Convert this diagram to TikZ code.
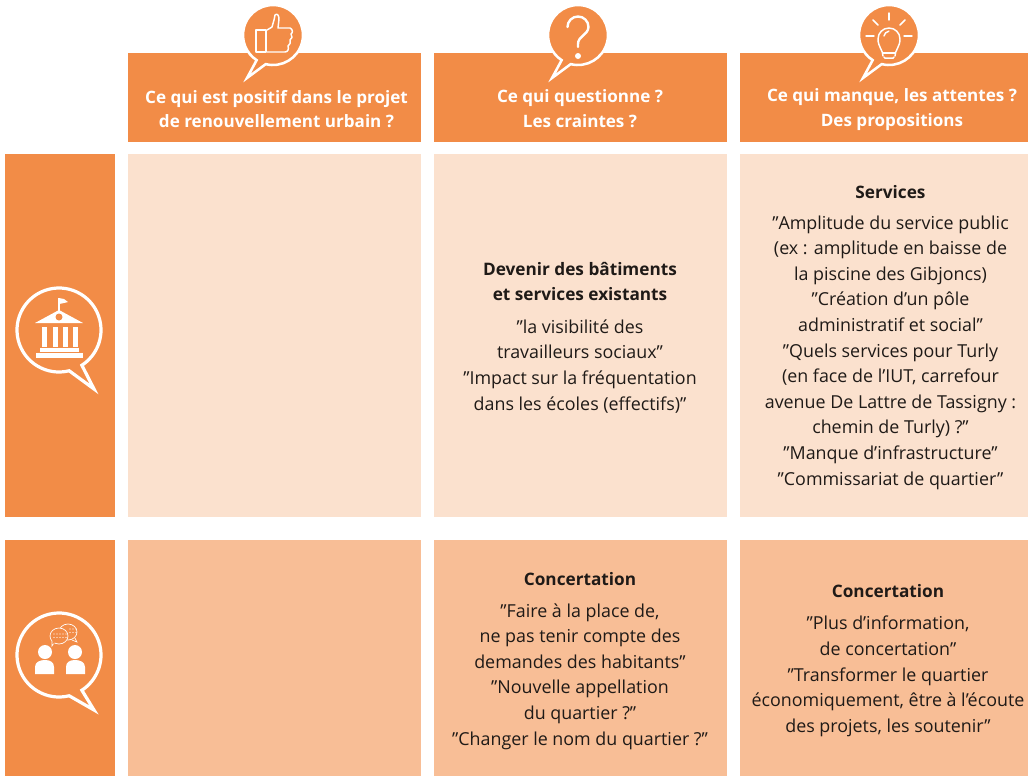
\documentclass[tikz,border=0pt]{standalone}
\usepackage{fontspec}
\setmainfont{Open Sans}
\definecolor{hdr}{HTML}{F28C47}
\definecolor{pale}{HTML}{FBE1CE}
\definecolor{mid}{HTML}{F8BE96}
\definecolor{ink}{HTML}{1F1A17}
\newcommand{\topbubble}[2]{\draw[white,line width=1.9pt,fill=hdr,miter limit=20] ($(#1,#2)+(123:30)$) -- ($(#1,#2)+(-26,43)$) -- ($(#1,#2)+(104:30)$) arc[start angle=104,end angle=-237,radius=30] -- cycle;}
\newcommand{\sidebubble}[3]{\draw[white,line width=2.4pt,fill=hdr,miter limit=20] ($(#1,#2)+(57:42)$) -- ($(#1,#2)+(35,#3)$) -- ($(#1,#2)+(76:42)$) arc[start angle=76,end angle=417,radius=42] -- cycle;}
\usetikzlibrary{calc}
\tikzset{
 x=0.75pt,y=-0.75pt,
 band/.style={rectangle,anchor=north west,inner sep=0pt,fill=hdr,text=white},
 hdrtext/.style={align=center,text=white,font=\fontsize{12.8}{18.6}\selectfont\bfseries,anchor=center},
 body/.style={align=center,text=ink,font=\fontsize{13.4}{19.2}\selectfont,anchor=center},
 ic/.style={white,line width=1.1pt,line join=round,line cap=round},
}
\newcommand{\cell}[6]{\node[band,fill=#6,minimum width=#4*0.75pt,minimum height=#5*0.75pt] (#1) at (#2,#3) {};}
\newcommand{\tit}[1]{{\fontsize{12.9}{19.2}\selectfont\bfseries #1}}
\begin{document}
\begin{tikzpicture}
\useasboundingbox (0,0) rectangle (1033,776);
\fill[white] (0,0) rectangle (1033,776);
% header bands
\cell{h1}{128}{53}{293}{89}{hdr}
\cell{h2}{434}{53}{293}{89}{hdr}
\cell{h3}{740}{53}{288}{89}{hdr}
% side bands
\cell{s1}{5}{154}{110}{363}{hdr}
\cell{s2}{5}{540}{110}{236}{hdr}
% row 1
\cell{a1}{128}{154}{293}{363}{pale}
\cell{a2}{434}{154}{293}{363}{pale}
\cell{a3}{740}{154}{288}{363}{pale}
% row 2
\cell{b1}{128}{540}{293}{236}{mid}
\cell{b2}{434}{540}{293}{236}{mid}
\cell{b3}{740}{540}{288}{236}{mid}
% top bubbles
\topbubble{273}{35}
\topbubble{578}{35}
\topbubble{889}{35}
% thumb
\draw[ic] (256,30) rectangle (266,52);
\draw[ic] (267,30) -- (272,27) -- (274,20) -- (275,15) .. controls (277,13) and (279,15) .. (279,19) -- (278,28) -- (290,28) .. controls (293,29) and (293,33) .. (291,34) .. controls (293,36) and (292,39) .. (290,40) .. controls (291,42) and (290,45) .. (288,46) .. controls (289,49) and (288,52) .. (285,52) -- (267,52);
% question mark
\draw[white,line width=1.8pt,line cap=round] (567.5,27) arc[start angle=180,end angle=360,radius=10.5] .. controls (588,35) and (578,36) .. (578,44) -- (578,47);
\fill[white] (578,56) circle[radius=3];
% bulb
\draw[ic] (883,56) .. controls (883,50) and (878,47) .. (878,39) arc[start angle=180,end angle=360,radius=11] .. controls (900,47) and (895,50) .. (895,56);
\draw[ic] (883,53) -- (895,53);
\draw[ic] (884,57) .. controls (884,59) and (885,58) .. (889,58) .. controls (893,58) and (894,59) .. (894,57);
\draw[ic] (884,36) arc[start angle=190,end angle=260,radius=6];
\draw[ic] (889,13) -- (889,20);
\draw[ic] (873,20) -- (878,25);
\draw[ic] (905,20) -- (900,25);
\draw[ic] (866,36) -- (874,36);
\draw[ic] (904,36) -- (912,36);
% side bubbles
\sidebubble{59}{330}{59}
\sidebubble{59}{655}{55}
% building
\fill[white] (59,310) -- (83,323) -- (35,323) -- cycle;
\fill[hdr] (59,317) circle[radius=3.5];
\draw[white,line width=0.9pt] (59,298) -- (59,311);
\fill[white] (59,298) -- (64,299) -- (68,302) -- (64,303) -- (59,304) -- cycle;
\foreach \cx in {42,52.5,62.5,73}{\fill[white] (\cx,327) rectangle ++(5,20);}
\fill[white] (40,348) rectangle (79,352);
\fill[white] (36,353) rectangle (83,358);
% people
\fill[white] (45,652) circle[radius=7] (75,652) circle[radius=7];
\fill[white] (35,674) -- (35,667) .. controls (35,662) and (40,660) .. (45,660) .. controls (50,660) and (54,662) .. (54,667) -- (54,674) -- cycle;
\fill[white] (66,674) -- (66,667) .. controls (66,662) and (70,660) .. (75,660) .. controls (80,660) and (85,662) .. (85,667) -- (85,674) -- cycle;
\draw[white,line width=0.5pt] (72,640) -- (77,642) -- (75,638);
\draw[white,line width=0.5pt] (68,632) ellipse[x radius=9,y radius=8];
\draw[white,line width=0.5pt,fill=hdr] (54,643) -- (52,646) -- (52,641) -- cycle;
\draw[white,line width=0.5pt,fill=hdr] (59,636) ellipse[x radius=9,y radius=8];
\fill[hdr] (52.4,640) -- (52.6,644) -- (55,642.5) -- cycle;
\foreach \dx in {54,57,60,63,66}{\fill[white] (\dx,634) circle[radius=.7] (\dx,637.5) circle[radius=.7];}
\foreach \dx in {70,73,76}{\fill[white] (\dx,629) circle[radius=.7] (\dx,632.5) circle[radius=.7];}
% header texts
\node[hdrtext] (t1) at (276.5,109) {Ce qui est positif dans le projet\\de renouvellement urbain ?};
\node[hdrtext] (t2) at (580,109) {Ce qui questionne ?\\Les craintes ?};
\node[hdrtext] (t3) at (892,109.5) {Ce qui manque, les attentes ?\\Des propositions};
% body texts
\node[body] (c1) at (580,337.5) {\tit{Devenir des bâtiments}\\\tit{et services existants}\\[5pt]"la visibilité des\\travailleurs sociaux"\\"Impact sur la fréquentation\\dans les écoles (effectifs)"};
\node[body] (c2) at (890.5,337.5) {\tit{Services}\\[3.75pt]"Amplitude du service public\\(ex : amplitude en baisse de\\la piscine des Gibjoncs)\\"Création d’un pôle\\administratif et social"\\"Quels services pour Turly\\(en face de l’IUT, carrefour\\avenue De Lattre de Tassigny :\\chemin de Turly) ?"\\"Manque d’infrastructure"\\"Commissariat de quartier"};
\node[body] (c3) at (580,661) {\tit{Concertation}\\[4.5pt]"Faire à la place de,\\ne pas tenir compte des\\demandes des habitants"\\"Nouvelle appellation\\du quartier ?"\\"Changer le nom du quartier ?"};
\node[body] (c4) at (888,660.5) {\tit{Concertation}\\[5.25pt]"Plus d’information,\\de concertation"\\"Transformer le quartier\\économiquement, être à l’écoute\\des projets, les soutenir"};
\end{tikzpicture}
\end{document}
